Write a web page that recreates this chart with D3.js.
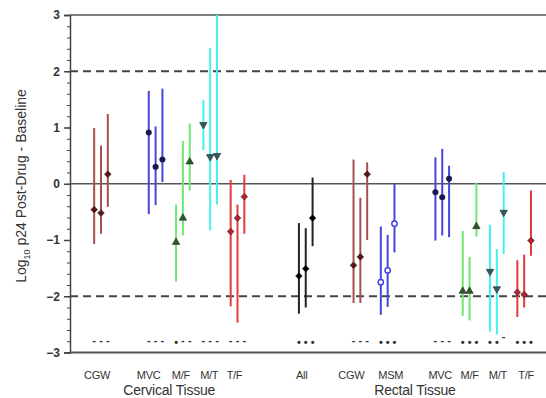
<!DOCTYPE html>
<html>
<head>
<meta charset="utf-8">
<script src="https://cdn.jsdelivr.net/npm/d3@7"></script>
<style>
  html, body { margin: 0; padding: 0; background: #fff; }
  svg { display: block; }
  text { font-family: "Liberation Sans", Arial, sans-serif; fill: #333; }
</style>
</head>
<body>
<svg id="chart" width="546" height="398"></svg>
<script>
// ---------------- DATA ----------------
const categories = ["CGW", "MVC", "M/F", "M/T", "T/F", "All", "CGW", "MSM", "MVC", "M/F", "M/T", "T/F"];
const tissues    = ["Cervical Tissue", "Cervical Tissue", "Cervical Tissue", "Cervical Tissue", "Cervical Tissue",
                    "Rectal Tissue", "Rectal Tissue", "Rectal Tissue", "Rectal Tissue", "Rectal Tissue", "Rectal Tissue", "Rectal Tissue"];
// three sampling points per category: median, lower, upper
const medians = [
  [-0.46, -0.52, 0.17],
  [0.91, 0.30, 0.43],
  [-1.04, -0.61, 0.39],
  [1.05, 0.48, 0.50],
  [-0.85, -0.61, -0.23],
  [-1.64, -1.51, -0.61],
  [-1.45, -1.30, 0.17],
  [-1.75, -1.54, -0.71],
  [-0.15, -0.24, 0.09],
  [-1.91, -1.91, -0.76],
  [-1.56, -1.87, -0.51],
  [-1.93, -1.97, -1.01]
];
const lows = [
  [-1.07, -0.89, -0.41],
  [-0.54, -0.38, 0.03],
  [-1.74, -0.92, -0.12],
  [0.60, -0.83, -0.37],
  [-2.18, -2.47, -0.89],
  [-2.31, -2.20, -1.11],
  [-2.12, -2.12, -1.00],
  [-2.33, -2.19, -1.22],
  [-1.01, -0.92, -0.95],
  [-2.35, -2.43, -0.94],
  [-2.63, -2.68, -1.25],
  [-2.37, -2.20, -1.28]
];
const highs = [
  [0.99, 0.68, 1.24],
  [1.65, 1.02, 1.69],
  [-0.37, 0.76, 1.07],
  [1.49, 2.41, 3.00],
  [0.07, -0.37, 0.16],
  [-0.70, -0.79, 0.11],
  [0.43, -0.25, 0.38],
  [-0.76, -0.91, 0.00],
  [0.47, 0.62, 0.32],
  [-0.84, -1.30, 0.02],
  [-0.73, -1.16, 0.21],
  [-1.36, -1.26, -0.12]
];
// significance marks under each point
const signif = [
  ["-", "-", "-"], ["-", "-", "-"], ["*", "-", "-"], ["-", "-", "-"], ["-", "-", "-"],
  ["*", "*", "*"], ["-", "-", "-"], ["*", "*", "*"], ["-", "-", "-"], ["*", "*", "*"],
  ["*", "*", "^"], ["*", "*", "*"]
];
const yTicks = [3, 2, 1, 0, -1, -2, -3];
const dashedRefs = [2, -2];
const solidRefs = [3, 0];

// ---------------- STYLE / LAYOUT ----------------
const styles = [
  {line: "#a5504f", fill: "#5c1616", shape: "diamond"},
  {line: "#4646dc", fill: "#16165c", shape: "circle"},
  {line: "#6ee86e", fill: "#2d5a2d", shape: "triUp"},
  {line: "#44f0f0", fill: "#2d5f5f", shape: "triDown"},
  {line: "#e23c3c", fill: "#c0202c", shape: "diamond"},
  {line: "#222222", fill: "#000000", shape: "diamond"},
  {line: "#a5504f", fill: "#5c1616", shape: "diamond"},
  {line: "#4646dc", fill: "#ffffff", shape: "openCircle"},
  {line: "#4646dc", fill: "#16165c", shape: "circle"},
  {line: "#6ee86e", fill: "#2d5a2d", shape: "triUp"},
  {line: "#44f0f0", fill: "#2d5f5f", shape: "triDown"},
  {line: "#e23c3c", fill: "#c0202c", shape: "diamond"}
];
// slot positions of categories along the x axis (gaps between groups)
const slots = [0, 2, 3, 4, 5, 7.5, 9.5, 10.5, 12.5, 13.5, 14.5, 15.5];
const labelShift = [-4, -7, -2, -1, -3, -4, -9, 3, -2, 0, 1, 2];
const offsets = [-0.25, 0, 0.25];

const svg = d3.select("#chart");
const x = d3.scaleLinear().domain([-1.135, 16.3]).range([70, 546]);
const y = d3.scaleLinear().domain([-3, 3]).range([352.5, 15]);

// minor ticks
const yAxisMinor = d3.axisLeft(y).tickValues(d3.range(-3, 3.001, 0.2)).tickSize(3).tickFormat("");
svg.append("g").attr("transform", "translate(70,0)").call(yAxisMinor)
  .call(g => g.select(".domain").remove())
  .call(g => g.selectAll("line").attr("stroke", "#444").attr("stroke-width", 1));

// major ticks + labels
const yAxis = d3.axisLeft(y).tickValues(yTicks).tickSize(6).tickPadding(4).tickFormat(d3.format("d"));
svg.append("g").attr("transform", "translate(70,0)").call(yAxis)
  .call(g => g.select(".domain").attr("stroke", "#444").attr("stroke-width", 1.5))
  .call(g => g.selectAll("line").attr("stroke", "#444").attr("stroke-width", 1.5))
  .call(g => g.selectAll("text").attr("font-size", 12).attr("font-weight", "bold")
    .attr("fill", "#444").style("font-family", "Liberation Sans, Arial, sans-serif"));

// reference lines
svg.append("g").selectAll("line").data(solidRefs).join("line")
  .attr("x1", 70).attr("x2", 546).attr("y1", d => y(d)).attr("y2", d => y(d))
  .attr("stroke", "#555").attr("stroke-width", 1.6);
svg.append("g").selectAll("line").data(dashedRefs).join("line")
  .attr("x1", 70).attr("x2", 546).attr("y1", d => y(d)).attr("y2", d => y(d))
  .attr("stroke", "#444").attr("stroke-width", 1.8).attr("stroke-dasharray", "8,5");
// bottom axis
svg.append("line").attr("x1", 70).attr("x2", 546).attr("y1", y(-3)).attr("y2", y(-3))
  .attr("stroke", "#555").attr("stroke-width", 1.8);

// flatten data
const pts = [];
categories.forEach((c, i) => {
  for (let j = 0; j < 3; j++) {
    pts.push({cat: i, j, med: medians[i][j], lo: lows[i][j], hi: highs[i][j], sig: signif[i][j],
              px: x(slots[i] + offsets[j]), st: styles[i]});
  }
});

// error bars
svg.append("g").selectAll("line").data(pts).join("line")
  .attr("x1", d => d.px).attr("x2", d => d.px)
  .attr("y1", d => y(d.lo)).attr("y2", d => y(Math.min(d.hi, 3)))
  .attr("stroke", d => d.st.line).attr("stroke-width", 2);

// markers
const sym = {
  diamond: d3.symbol().type(d3.symbolSquare).size(22),
  circle: d3.symbol().type(d3.symbolCircle).size(24),
  openCircle: d3.symbol().type(d3.symbolCircle).size(22),
  triUp: d3.symbol().type(d3.symbolTriangle).size(24),
  triDown: d3.symbol().type(d3.symbolTriangle).size(24)
};
svg.append("g").selectAll("path").data(pts).join("path")
  .attr("d", d => sym[d.st.shape]())
  .attr("transform", d => `translate(${d.px},${y(d.med)})` +
        (d.st.shape === "triDown" ? " rotate(180)" : (d.st.shape === "diamond" ? " rotate(45)" : "")))
  .attr("fill", d => d.st.fill)
  .attr("stroke", d => d.st.shape === "openCircle" ? d.st.line : "#222")
  .attr("stroke-width", d => d.st.shape === "openCircle" ? 1.5 : 0.6);

// significance marks
svg.append("g").selectAll("text").data(pts).join("text")
  .attr("x", d => d.px)
  .attr("y", d => d.sig === "*" ? 346 : (d.sig === "^" ? 340 : 344))
  .attr("text-anchor", "middle")
  .attr("font-size", 11)
  .attr("font-weight", "bold")
  .attr("fill", "#555")
  .text(d => d.sig === "*" ? "•" : "-");

// category labels
svg.append("g").selectAll("text").data(categories).join("text")
  .attr("x", (d, i) => x(slots[i]) + labelShift[i])
  .attr("y", 379)
  .attr("text-anchor", "middle")
  .attr("font-size", 11)
  .attr("letter-spacing", -0.3)
  .attr("fill", "#333")
  .text(d => d);

// tissue group labels
const groups = d3.groups(categories.map((c, i) => ({t: tissues[i], s: slots[i]})), d => d.t);
svg.append("g").selectAll("text").data(groups).join("text")
  .attr("x", d => x(d3.mean([d3.min(d[1], e => e.s), d3.max(d[1], e => e.s)])) )
  .attr("y", 395)
  .attr("text-anchor", "middle")
  .attr("font-size", 14)
  .attr("letter-spacing", -0.2)
  .attr("fill", "#333")
  .text(d => d[0]);

// y axis title
const yt = svg.append("text")
  .attr("transform", "translate(26,186) rotate(-90)")
  .attr("text-anchor", "middle")
  .attr("font-size", 14)
  .attr("fill", "#333");
yt.append("tspan").text("Log");
yt.append("tspan").attr("font-size", 9).attr("dy", 4).text("10");
yt.append("tspan").attr("dy", -4).text(" p24 Post-Drug - Baseline");
</script>
</body>
</html>
